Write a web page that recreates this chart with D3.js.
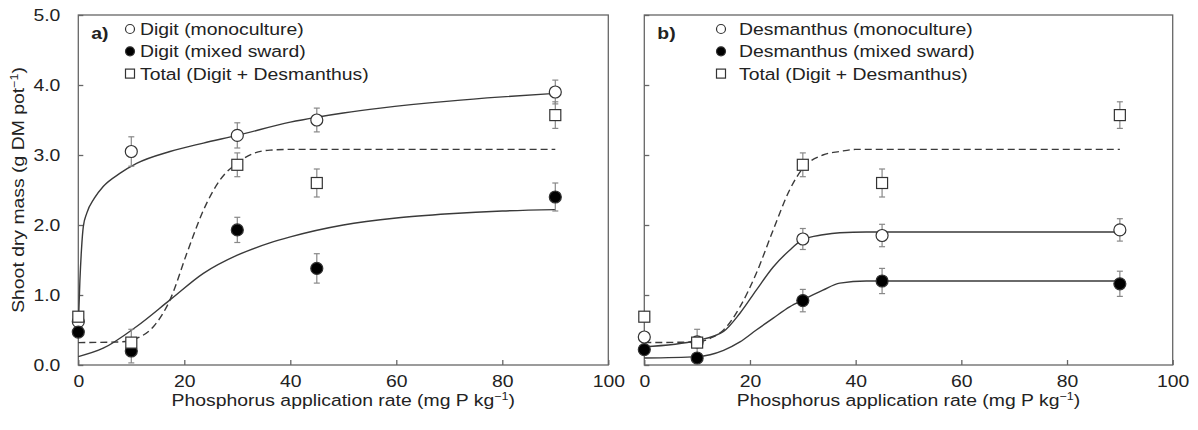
<!DOCTYPE html>
<html>
<head>
<meta charset="utf-8">
<script src="https://cdn.jsdelivr.net/npm/d3@7"></script>
<style>
  body { margin: 0; background: #fff; }
  svg text { font-family: "Liberation Sans", Arial, sans-serif; fill: #222; }
</style>
</head>
<body>
<div id="chart"></div>
<script>
// phosphorus rates and measured means / error bars
const pRates = [0, 10, 30, 45, 90];
const digitMono = [0.62, 3.05, 3.28, 3.5, 3.9];
const digitMonoErr = [0.04, 0.21, 0.18, 0.17, 0.17];
const digitMixed = [0.47, 0.2, 1.93, 1.38, 2.4];
const digitMixedErr = [0.04, 0.17, 0.18, 0.21, 0.2];
const totalDM = [0.69, 0.32, 2.86, 2.6, 3.57];
const totalErr = [0.05, 0.19, 0.17, 0.2, 0.19];
const desMono = [0.4, 0.33, 1.8, 1.85, 1.93];
const desMonoErr = [0.03, 0.05, 0.15, 0.16, 0.16];
const desMixed = [0.22, 0.1, 0.92, 1.2, 1.16];
const desMixedErr = [0.03, 0.03, 0.16, 0.18, 0.18];

// fitted response curves as [x, y]
const fitDigitMono = [[0,0.55],[0.3,1.2],[0.6,1.65],[0.95,1.98],[1.6,2.17],[3,2.38],[4.7,2.55],[7.9,2.74],[11,2.88],[17.3,3.05],[23.6,3.17],[30,3.28],[40,3.47],[45,3.54],[50,3.6],[57,3.67],[70,3.77],[80,3.83],[90,3.88]];
const fitDigitMixed = [[0,0.12],[4.7,0.24],[11,0.55],[17.3,0.93],[23.6,1.31],[30,1.57],[36,1.74],[40,1.83],[50,2.0],[60,2.1],[70,2.16],[80,2.2],[90,2.22]];
const fitTotalA = [[0,0.32],[8,0.33],[11,0.38],[14.2,0.55],[17.3,0.93],[20.5,1.6],[23.6,2.21],[26.7,2.64],[29.9,2.88],[33,3.02],[36.2,3.07],[40,3.08],[90,3.08]];
const fitDesMono = [[0,0.26],[10,0.35],[15,0.48],[18.1,0.74],[21.2,1.07],[24.4,1.4],[27.5,1.64],[30,1.79],[33.8,1.86],[37,1.89],[42,1.9],[90,1.9]];
const fitDesMixed = [[0,0.1],[10,0.12],[15,0.21],[18.1,0.33],[21.2,0.5],[24.4,0.67],[27.5,0.83],[30,0.93],[33.8,1.07],[37,1.17],[42,1.2],[90,1.2]];
const fitTotalB = [[0,0.32],[10,0.33],[13,0.4],[15,0.5],[18.1,0.83],[21.2,1.31],[24.4,1.93],[27.5,2.5],[30,2.81],[33.8,3.0],[37,3.05],[40,3.08],[90,3.08]];

const xTicks = [0, 20, 40, 60, 80, 100];
const yTicks = [0, 1, 2, 3, 4, 5];

const width = 1198, height = 430;
const plotTop = 15, plotBottom = 365;
const fontSize = '17px';
const stretch = 1.14; // the original uses a wider face than Arial

const svg = d3.select('#chart')
  .append('svg')
  .attr('width', width)
  .attr('height', height);

const y = d3.scaleLinear().domain([0, 5]).range([plotBottom, plotTop]);

const panels = [
  {
    left: 78.3, right: 608.3, tag: 'a)', yLabels: true,
    legendX: 130, textGap: 10,
    series: [
      {name: 'Digit (monoculture)', vals: digitMono, err: digitMonoErr, shape: 'open'},
      {name: 'Digit (mixed sward)', vals: digitMixed, err: digitMixedErr, shape: 'filled'},
      {name: 'Total (Digit + Desmanthus)', vals: totalDM, err: totalErr, shape: 'square'}
    ],
    fits: [
      {pts: fitDigitMono, dash: null},
      {pts: fitDigitMixed, dash: null},
      {pts: fitTotalA, dash: '7,4'}
    ]
  },
  {
    left: 644.3, right: 1172.7, tag: 'b)', yLabels: false,
    legendX: 721, textGap: 18,
    series: [
      {name: 'Desmanthus (monoculture)', vals: desMono, err: desMonoErr, shape: 'open'},
      {name: 'Desmanthus (mixed sward)', vals: desMixed, err: desMixedErr, shape: 'filled'},
      {name: 'Total (Digit + Desmanthus)', vals: totalDM, err: totalErr, shape: 'square'}
    ],
    fits: [
      {pts: fitTotalB, dash: '7,4'},
      {pts: fitDesMono, dash: null},
      {pts: fitDesMixed, dash: null}
    ]
  }
];

function drawMarker(g, shape, cx, cy, r) {
  if (shape === 'square') {
    g.append('rect')
      .attr('x', cx - r).attr('y', cy - r)
      .attr('width', 2 * r).attr('height', 2 * r)
      .attr('fill', '#fff').attr('stroke', '#333').attr('stroke-width', 1.2);
  } else {
    g.append('circle')
      .attr('cx', cx).attr('cy', cy).attr('r', r)
      .attr('fill', shape === 'filled' ? '#000' : '#fff')
      .attr('stroke', '#333').attr('stroke-width', 1.2);
  }
}

// text placed at (tx, ty), widened along its own direction
function addText(g, tx, ty, rotate) {
  return g.append('text')
    .attr('transform', `translate(${tx},${ty})` + (rotate ? ` rotate(${rotate})` : '') + ` scale(${stretch},1)`)
    .style('font-size', fontSize);
}

function withSuperscript(t, before, sup, after) {
  t.append('tspan').text(before);
  t.append('tspan').attr('dy', -6).style('font-size', '11px').text(sup);
  t.append('tspan').attr('dy', 6).text(after);
}

panels.forEach(p => {
  const x = d3.scaleLinear().domain([0, 100]).range([p.left, p.right]);
  const g = svg.append('g');

  // frame
  g.append('rect')
    .attr('x', p.left).attr('y', plotTop)
    .attr('width', p.right - p.left).attr('height', plotBottom - plotTop)
    .attr('fill', 'none').attr('stroke', '#666').attr('stroke-width', 1.3);

  // inward ticks
  const xAxis = d3.axisBottom(x).tickValues(xTicks).tickSize(-5).tickPadding(10)
    .tickFormat(d3.format('d'));
  const xg = g.append('g').attr('transform', `translate(0,${plotBottom})`).call(xAxis);
  xg.select('.domain').remove();
  xg.selectAll('line').attr('stroke', '#666').attr('stroke-width', 1.3);
  xg.selectAll('text')
    .style('font-size', fontSize).attr('fill', '#222')
    .attr('transform', `scale(${stretch},1)`);

  const yAxis = d3.axisLeft(y).tickValues(yTicks).tickSize(-5).tickPadding(18)
    .tickFormat(p.yLabels ? d3.format('.1f') : '');
  const yg = g.append('g').attr('transform', `translate(${p.left},0)`).call(yAxis);
  yg.select('.domain').remove();
  yg.selectAll('line').attr('stroke', '#666').attr('stroke-width', 1.3);
  yg.selectAll('text')
    .style('font-size', fontSize).attr('fill', '#222')
    .attr('x', -18 / stretch)
    .attr('transform', `scale(${stretch},1)`);

  // fitted curves
  const line = d3.line()
    .x(d => x(d[0]))
    .y(d => y(d[1]))
    .curve(d3.curveMonotoneX);
  p.fits.forEach(f => {
    g.append('path')
      .datum(f.pts)
      .attr('d', line)
      .attr('fill', 'none')
      .attr('stroke', '#3a3a3a')
      .attr('stroke-width', 1.4)
      .attr('stroke-dasharray', f.dash);
  });

  // error bars, then points with the squares on top
  const order = [0, 1, 2];
  order.forEach(si => {
    const s = p.series[si];
    s.vals.forEach((v, i) => {
      const cx = x(pRates[i]);
      const e = s.err[i];
      g.append('line')
        .attr('x1', cx).attr('x2', cx)
        .attr('y1', y(v - e)).attr('y2', y(v + e))
        .attr('stroke', '#888').attr('stroke-width', 1.2);
      [v - e, v + e].forEach(ev => {
        g.append('line')
          .attr('x1', cx - 3).attr('x2', cx + 3)
          .attr('y1', y(ev)).attr('y2', y(ev))
          .attr('stroke', '#888').attr('stroke-width', 1.2);
      });
    });
  });
  order.forEach(si => {
    const s = p.series[si];
    s.vals.forEach((v, i) => {
      drawMarker(g, s.shape, x(pRates[i]), y(v), s.shape === 'square' ? 5.5 : 6);
    });
  });

  // panel tag
  addText(g, p.left + 13, 39).style('font-weight', 'bold').text(p.tag);

  // legend
  p.series.forEach((s, i) => {
    const ly = 29 + i * 22.3;
    drawMarker(g, s.shape, p.legendX, ly, 4.5);
    addText(g, p.legendX + p.textGap, ly).attr('dy', '0.35em').text(s.name);
  });

  // x axis title
  const xt = addText(g, (p.left + p.right) / 2, 406).attr('text-anchor', 'middle');
  withSuperscript(xt, 'Phosphorus application rate (mg P kg', '−1', ')');
});

// y axis title
const yt = addText(svg, 24, 190, -90).attr('text-anchor', 'middle');
withSuperscript(yt, 'Shoot dry mass (g DM pot', '−1', ')');
</script>
</body>
</html>
